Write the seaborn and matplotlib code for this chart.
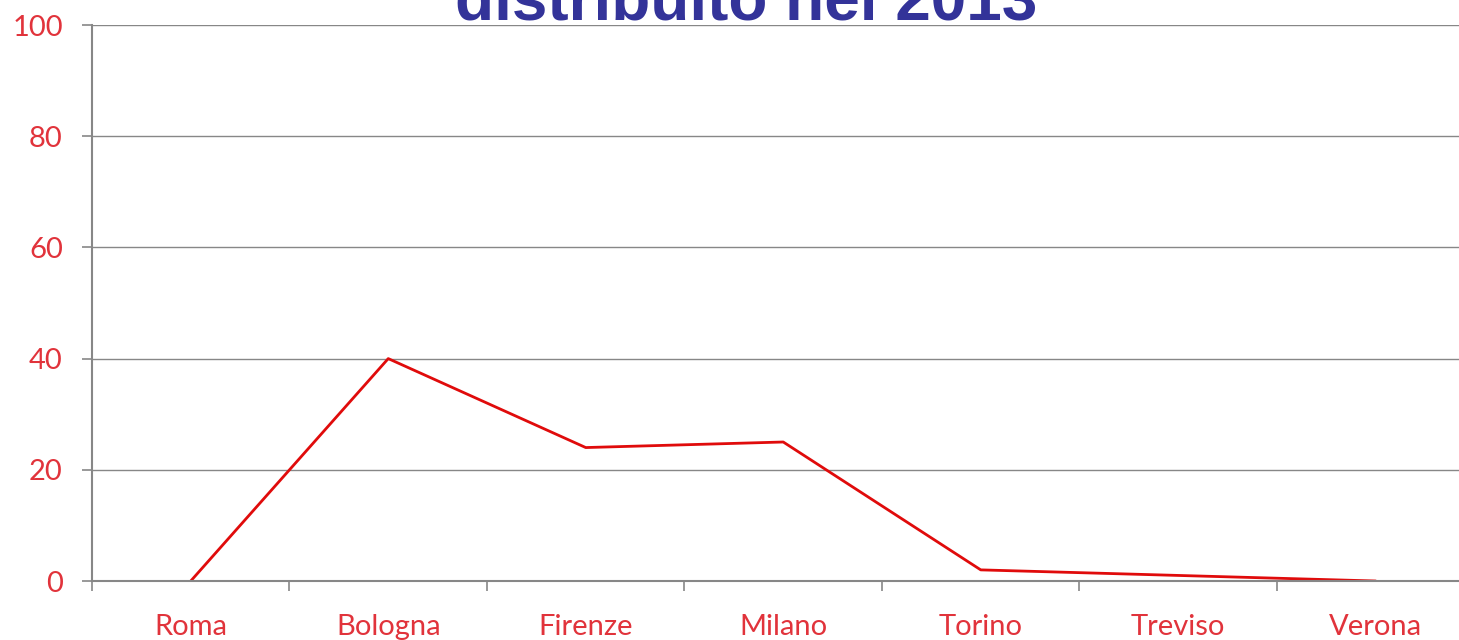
import numpy as np
import pandas as pd
import matplotlib
matplotlib.use("Agg")
import matplotlib.pyplot as plt
from matplotlib.ticker import FixedLocator
import seaborn as sns

# data
cities = ["Roma", "Bologna", "Firenze", "Milano", "Torino", "Treviso", "Verona"]
values = [0, 40, 24, 25, 2, 1, 0]
y_ticks = [0, 20, 40, 60, 80, 100]
title = "distribuito nel 2013"

red_text = "#E1333B"
grey = "#878787"

sns.set_theme(style="white")
plt.rcParams['font.family'] = ['Lato', 'DejaVu Sans']

df = pd.DataFrame({"city": cities, "value": values})

fig = plt.figure(figsize=(14.59, 6.40), dpi=100)
ax = fig.add_axes([92 / 1459, 59 / 640, 1382.5 / 1459, 556 / 640])

sns.lineplot(data=df, x="city", y="value", ax=ax, color="#E00B0B",
             linewidth=2, sort=False)

ax.set_xlim(-0.5, len(cities) - 0.5)
ax.set_ylim(0, 100)
ax.set_yticks(y_ticks)
ax.yaxis.grid(True, color=grey, linewidth=1)
ax.set_axisbelow(True)
ax.set_xlabel("")
ax.set_ylabel("")

for side in ["top", "right"]:
    ax.spines[side].set_visible(False)
for side in ["left", "bottom"]:
    ax.spines[side].set_color(grey)
    ax.spines[side].set_linewidth(1.5)

# category boundaries get the tick marks, labels sit in between
ax.xaxis.set_minor_locator(FixedLocator(np.arange(-0.5, len(cities), 1.0)))
ax.tick_params(axis="x", which="minor", length=7, width=1.2, color=grey, bottom=True)
ax.tick_params(axis="x", which="major", length=0, pad=24, labelsize=21, labelcolor=red_text)
ax.tick_params(axis="y", which="major", length=7, width=1.2, color=grey, left=True,
               pad=14, labelsize=21, labelcolor=red_text)

fig.text(746 / 1459, 620 / 640, title, ha="center", va="baseline",
         fontsize=46, fontweight="bold", color="#333399", family="Liberation Sans")

fig.savefig("out.png", dpi=100)
